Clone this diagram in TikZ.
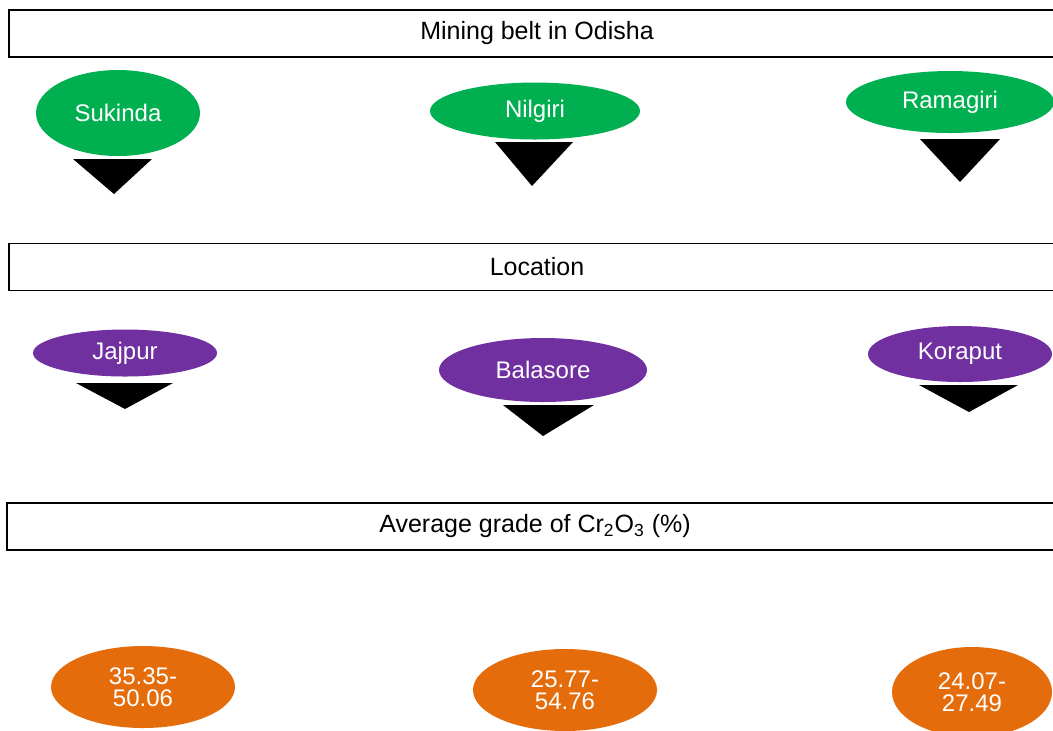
\documentclass[tikz,border=0pt]{standalone}
\usepackage{fontspec}
\setmainfont{Liberation Sans}
\usetikzlibrary{shapes.geometric}
\definecolor{beltgreen}{HTML}{00B050}
\definecolor{distpurple}{HTML}{7030A0}
\definecolor{gradeorange}{HTML}{E46C0A}
\tikzset{
  headbox/.style={draw=black, line width=0.8pt, minimum width=528pt, minimum height=23.5pt, inner sep=0pt, font=\fontsize{12.5}{14}\selectfont},
  blob/.style={ellipse, inner sep=0pt, text=white, align=center, font=\fontsize{12}{11}\selectfont},
}
\begin{document}
\begin{tikzpicture}[x=0.5pt, y=-0.5pt]
    \useasboundingbox (0,0) rectangle (1053,730);
    \clip (0,0) rectangle (1053,730);
    \fill[white] (0,0) rectangle (1053,730);
    % header boxes
    \node[headbox] (belt) at (537,33.5) {Mining belt in Odisha};
    \node[headbox] (loc) at (537,267) {Location};
    \node[headbox] (grade) at (535,526.5) {Average grade of Cr\textsubscript{2}O\textsubscript{3} (\%)};
    % mines
    \node[blob, fill=beltgreen, minimum width=82pt, minimum height=43pt] (suk) at (118,113) {Sukinda};
    \node[blob, fill=beltgreen, minimum width=105pt, minimum height=28.5pt] (nil) at (535,111) {Nilgiri};
    \node[blob, fill=beltgreen, minimum width=104pt, minimum height=31pt] (ram) at (950,102) {Ramagiri};
    \fill (73,159)--(152,159)--(114,194)--cycle;
    \fill (495,142)--(573,142)--(532,186)--cycle;
    \fill (920,139)--(1000,139)--(960,182)--cycle;
    % districts
    \node[blob, fill=distpurple, minimum width=92pt, minimum height=23.5pt] (jaj) at (125,353) {Jajpur};
    \node[blob, fill=distpurple, minimum width=104pt, minimum height=32pt] (bal) at (543,370) {Balasore};
    \node[blob, fill=distpurple, minimum width=92pt, minimum height=28pt] (kor) at (960,354) {Koraput};
    \fill (76,383)--(173,383)--(125,409)--cycle;
    \fill (503,405)--(594,405)--(543,436)--cycle;
    \fill (919,385)--(1018,385)--(969,412)--cycle;
    % grades
    \node[blob, fill=gradeorange, minimum width=92pt, minimum height=41pt] (ga) at (143,687) {35.35-\\50.06};
    \node[blob, fill=gradeorange, minimum width=92pt, minimum height=41pt] (gb) at (565,690) {25.77-\\54.76};
    \node[blob, fill=gradeorange, minimum width=80pt, minimum height=45pt] (gc) at (972,692) {24.07-\\27.49};
\end{tikzpicture}
\end{document}
